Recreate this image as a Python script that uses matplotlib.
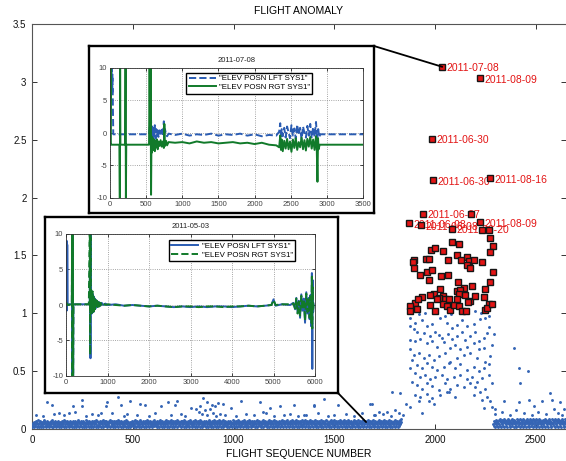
import numpy as np
import matplotlib
matplotlib.use('Agg')
import matplotlib.pyplot as plt
from matplotlib.patches import ConnectionPatch

plt.rcParams['font.family'] = ['Liberation Sans', 'DejaVu Sans']
plt.rcParams['axes.unicode_minus'] = False

# ---------------- main scatter data ----------------
# baseline band (flights 0..~1860, every 2nd flight), digit d -> anomaly (d+1)/100
band_a = (
    "3142531426351423741526314253174625314263524153624173514263521"
    "4253612435214635241736251436254132645213652413625143726154326"
    "2514362514237165243614253162451362541732615243625143627154236"
    "3615243625174253614263512463527143625146352413625174362514253"
    "1426352416372514263541263715243625416352147362514263521463725"
    "4352613425163742516342513627415362514263751426351426354172635"
    "2536142635174263514263521746352416352417362514263514726351426"
    "3524163524173625143625147362514263517426351426371524362514263"
    "5142635241736251426351427362514263541726351426352174635214263"
    "2635142637152436251426374152436251426351742635142637152463521"
    "4263514263721546352416374251436254137264513627415263514263527"
    "1536241735264153624173526415362471352641536247135264153624713"
    "3624153627415362417352641536241735264153627415362417352641536"
    "2415362741536247135264153624713526415362471352641536247135264"
    "415362741352641536247135264153624713526415362471352641536247358"
)
band_a_start = 0
# baseline band after the anomaly (flights ~2290..2650, every 2nd flight)
band_b = (
    "3625417362514738265147362815473625184736251473826514736251847"
    "2635184725361847253618472536184725361847253618472536184725361"
    "4736251847362518473625184736251847362518473625184736251847362"
)
band_b_start = 2290

# isolated higher points
outl_x = [73, 98, 134, 184, 204, 247, 250, 341, 366, 373,
          428, 440, 487, 537, 561, 640, 674, 711, 718, 788,
          813, 834, 851, 867, 884, 892, 908, 925, 950, 987,
          1038, 1129, 1145, 1182, 1232, 1301, 1361, 1397, 1400, 1450,
          1518, 1675, 1687, 1697, 1763, 1786, 1801, 1827, 1857, 2344,
          2390, 2415, 2418, 2423, 2460, 2465, 2492, 2533, 2569, 2580,
          2620, 2640]
outl_y = [0.23, 0.21, 0.14, 0.14, 0.20, 0.25, 0.20, 0.14, 0.20, 0.23,
          0.28, 0.21, 0.245, 0.22, 0.21, 0.20, 0.23, 0.21, 0.245, 0.18,
          0.17, 0.20, 0.265, 0.23, 0.17, 0.21, 0.20, 0.225, 0.22, 0.18,
          0.245, 0.23, 0.15, 0.18, 0.20, 0.21, 0.12, 0.20, 0.21, 0.26,
          0.21, 0.22, 0.22, 0.12, 0.15, 0.32, 0.16, 0.31, 0.22, 0.24,
          0.70, 0.53, 0.23, 0.40, 0.50, 0.25, 0.20, 0.24, 0.31, 0.25,
          0.23, 0.17]
mid_x = [20, 55, 110, 160, 215, 270, 300, 330, 395, 455,
         470, 520, 580, 610, 690, 740, 760, 830, 845, 860,
         870, 900, 915, 935, 960, 1010, 1060, 1100, 1160, 1200,
         1250, 1280, 1320, 1350, 1420, 1470, 1500, 1560, 1600, 1640,
         1700, 1720, 1740, 1780, 1820, 1840, 2300, 2330, 2370, 2400,
         2440, 2480, 2510, 2550, 2590, 2610, 2630]
mid_y = [0.12, 0.11, 0.13, 0.12, 0.15, 0.11, 0.13, 0.12, 0.14, 0.11,
         0.13, 0.12, 0.11, 0.14, 0.12, 0.13, 0.11, 0.15, 0.13, 0.16,
         0.12, 0.14, 0.11, 0.13, 0.12, 0.11, 0.13, 0.12, 0.14, 0.11,
         0.12, 0.13, 0.11, 0.12, 0.14, 0.11, 0.12, 0.13, 0.11, 0.14,
         0.12, 0.15, 0.13, 0.11, 0.14, 0.12, 0.13, 0.15, 0.12, 0.16,
         0.14, 0.12, 0.15, 0.13, 0.17, 0.14, 0.12]

# anomaly cluster (blue points)
clu_x = [1877, 1902, 1935, 1960, 1985, 2026, 2059, 2084, 2109, 2134,
         2159, 2192, 2225, 2250, 2266, 2291, 1877, 1894, 1910, 1943,
         1977, 2001, 2018, 2034, 2063, 2084, 2109, 2134, 2150, 2175,
         2200, 2217, 2241, 2258, 1877, 1902, 1927, 1960, 1985, 2010,
         2043, 2076, 2101, 2126, 2159, 2192, 2217, 2241, 2283, 1877,
         1894, 1919, 1943, 1968, 1993, 2018, 2051, 2076, 2109, 2142,
         2175, 2208, 2250, 2274, 1886, 1910, 1935, 1960, 1985, 2010,
         2043, 2068, 2101, 2126, 2159, 2192, 2217, 2241, 2266, 1877,
         1902, 1927, 1952, 1977, 2001, 2034, 2059, 2092, 2126, 2159,
         2183, 2208, 2233, 2266, 1886, 1910, 1935, 1960, 1985, 2018,
         2051, 2076, 2109, 2142, 2175, 2200, 2225, 2250, 2283, 1902,
         1927, 1960, 1985, 2026, 2059, 2101, 2192, 2233, 2258, 2274,
         1935, 1993, 2068, 2283, 2299, 2241, 1877, 1919, 1968, 1890,
         1950, 2010, 2080, 2140, 2200, 2270, 1920, 2050, 2230]
clu_y = [0.96, 0.92, 0.94, 0.89, 0.91, 0.96, 0.92, 0.87, 0.90, 0.94,
         0.89, 0.91, 0.95, 0.96, 0.88, 0.82, 0.89, 0.86, 0.84, 0.83,
         0.80, 0.84, 0.81, 0.79, 0.82, 0.78, 0.80, 0.84, 0.77, 0.80,
         0.84, 0.76, 0.79, 0.83, 0.77, 0.76, 0.78, 0.74, 0.76, 0.71,
         0.75, 0.70, 0.73, 0.69, 0.71, 0.74, 0.69, 0.70, 0.73, 0.69,
         0.64, 0.66, 0.61, 0.64, 0.60, 0.63, 0.66, 0.58, 0.61, 0.64,
         0.66, 0.61, 0.58, 0.63, 0.60, 0.55, 0.53, 0.57, 0.54, 0.51,
         0.54, 0.57, 0.53, 0.56, 0.51, 0.54, 0.50, 0.53, 0.56, 0.53,
         0.48, 0.45, 0.47, 0.43, 0.45, 0.47, 0.43, 0.45, 0.47, 0.43,
         0.45, 0.41, 0.44, 0.47, 0.41, 0.38, 0.35, 0.40, 0.37, 0.34,
         0.40, 0.35, 0.38, 0.36, 0.40, 0.36, 0.32, 0.35, 0.40, 0.29,
         0.28, 0.30, 0.27, 0.29, 0.32, 0.28, 0.29, 0.25, 0.28, 0.24,
         0.14, 0.22, 0.32, 0.19, 0.17, 0.18, 0.19, 0.24, 0.24, 1.05,
         1.00, 1.03, 0.99, 1.00, 1.02, 0.98, 0.99, 0.98, 1.00]

# flagged anomalies (red squares)
sq_x = [2180, 2233, 2266, 2274, 2286, 2274, 2084, 2117, 1981, 2001,
        2042, 1894, 1889, 1955, 1971, 2109, 2158, 2130, 2167, 2191,
        2233, 2064, 1894, 1960, 1985, 2031, 2064, 1927, 1971, 2158,
        2175, 2286, 2274, 2112, 2183, 2142, 2249, 2026, 1993, 1976,
        2042, 2051, 2018, 1935, 2109, 2125, 2117, 2150, 2175, 2200,
        2241, 2266, 1902, 1874, 1877, 1910, 1976, 2001, 2042, 2059,
        2076, 2092, 2120, 2133, 2155, 2162, 2109, 2067, 2249, 2258,
        2284, 2009, 1918]
sq_y = [1.86, 1.72, 1.72, 1.65, 1.58, 1.53, 1.62, 1.60, 1.55, 1.56,
        1.54, 1.46, 1.44, 1.47, 1.47, 1.50, 1.49, 1.46, 1.45, 1.46,
        1.44, 1.46, 1.39, 1.36, 1.37, 1.32, 1.33, 1.33, 1.29, 1.42,
        1.39, 1.36, 1.27, 1.27, 1.24, 1.22, 1.21, 1.21, 1.17, 1.16,
        1.15, 1.12, 1.13, 1.14, 1.19, 1.20, 1.17, 1.16, 1.11, 1.15,
        1.14, 1.08, 1.09, 1.06, 1.02, 1.04, 1.07, 1.02, 1.08, 1.06,
        1.03, 1.07, 1.06, 1.02, 1.02, 1.10, 1.12, 1.12, 1.03, 1.05,
        1.08, 1.12, 1.12]
lab_x = [2036, 2224, 1986, 1991, 2274, 1941, 1872, 1930, 2084, 2224]
lab_y = [3.13, 3.03, 2.51, 2.15, 2.17, 1.86, 1.78, 1.76, 1.73, 1.79]
lab_txt = ['2011-07-08', '2011-08-09', '2011-06-30', '2011-06-30', '2011-08-16',
           '2011-06-27', '2011-06-08', '2011-06-08', '2011-06-20', '2011-08-09']
# flights shown in the insets: 2011-07-08 and 2011-05-03
zoom_x = [2036, 1658]
zoom_y = [3.13, 0.06]

main_xticks = [0, 500, 1000, 1500, 2000, 2500]
main_yticks = [0, 0.5, 1, 1.5, 2, 2.5, 3, 3.5]
main_yticklabels = ['0', '0.5', '1', '1.5', '2', '2.5', '3', '3.5']

# ---------------- inset 1: 2011-07-08 ----------------
a1_lft_x = [0, 10, 14, 18, 22, 26, 30, 34, 38, 45,
            540, 552, 560, 568, 576, 584, 592, 600, 610, 620,
            630, 640, 650, 660, 670, 685, 700, 715, 730, 745,
            752, 760, 775, 790, 810, 900, 1000, 1100, 1200, 1300,
            1400, 1500, 1600, 1700, 1800, 1900, 2000, 2100, 2200, 2300,
            2340, 2355, 2365, 2375, 2390, 2410, 2430, 2450, 2470, 2490,
            2510, 2530, 2550, 2570, 2590, 2610, 2630, 2650, 2670, 2690,
            2710, 2730, 2750, 2770, 2790, 2810, 2830, 2850, 2865, 2880,
            2895, 2910, 3000, 3500]
a1_lft_y = [-0.2, 10, 6, 10, 7, 10, 6, 9, 6, -0.2,
            -0.2, 1.2, -1.2, 2.0, -0.8, 1.0, -1.3, 0.8, -0.6, 1.2,
            -0.9, 0.6, -0.5, 0.7, -0.6, 0.4, -0.3, 0.5, -0.5, 1.8,
            -0.4, 0.6, -0.2, -0.5, -0.1, -0.3, -0.1, -0.4, -0.2, -0.3,
            -0.1, -0.4, -0.2, -0.3, -0.1, -0.4, -0.2, -0.5, -0.3, -0.4,
            0.2, 1.5, -0.8, 0.6, -0.5, 0.8, -0.7, 1.0, 0.1, -0.8,
            1.2, -0.4, 0.7, -0.9, 1.3, -0.3, 0.8, -1.0, 1.0, 0.0,
            -0.7, 1.1, -0.4, 1.4, -0.8, 0.9, -0.6, 1.7, -1.2, 0.6,
            -0.6, -0.2, -0.2, -0.2]
a1_rgt_x = [0, 8, 12, 20, 130, 136, 140, 144, 210, 215,
            220, 225, 520, 540, 548, 556, 562, 568, 574, 580,
            590, 600, 610, 620, 630, 640, 650, 660, 670, 685,
            700, 715, 730, 745, 752, 760, 775, 790, 810, 900,
            1000, 1100, 1200, 1300, 1400, 1500, 1600, 1700, 1800, 1900,
            2000, 2100, 2200, 2300, 2340, 2355, 2365, 2375, 2390, 2410,
            2430, 2450, 2470, 2490, 2510, 2530, 2550, 2570, 2590, 2610,
            2630, 2650, 2670, 2690, 2710, 2730, 2750, 2770, 2790, 2810,
            2830, 2850, 2860, 2870, 2878, 2886, 2900, 3000, 3500]
a1_rgt_y = [-1.8, 10, -1.8, -1.8, -1.8, -10, 10, -1.8, -1.8, 10,
            -10, -1.8, -1.8, -1.8, 10, -1.5, 10, -9.5, -0.5, -3.0,
            -0.8, -2.6, -1.0, -2.8, -1.2, -2.2, -1.0, -2.5, -1.3, -2.0,
            -1.1, -2.1, -1.3, -2.3, 1.4, -2.0, -1.2, -1.9, -1.4, -1.5,
            -1.4, -1.6, -1.3, -1.5, -1.4, -1.6, -1.5, -1.4, -1.6, -1.5,
            -1.7, -1.5, -1.8, -1.9, -2.2, -0.4, -2.6, -1.0, -2.8, -1.2,
            -2.4, -0.9, -2.5, -1.3, -2.9, -1.0, -2.3, -0.8, -2.6, -1.4,
            -2.2, -0.7, -2.5, -1.1, -2.7, -0.9, -2.1, -0.6, -2.4, -1.0,
            -2.6, -0.5, -2.2, -7.5, -0.8, -2.5, -1.8, -1.8, -1.8]
a1_xticks = [0, 500, 1000, 1500, 2000, 2500, 3000, 3500]

# ---------------- inset 2: 2011-05-03 ----------------
a2_lft_x = [0, 10, 15, 20, 25, 30, 40, 140, 148, 156,
            164, 172, 180, 550, 570, 580, 590, 598, 606, 614,
            622, 630, 640, 650, 660, 670, 680, 695, 710, 725,
            740, 760, 780, 800, 830, 860, 900, 950, 1000, 1200,
            1400, 1600, 1800, 2000, 2200, 2400, 2600, 2800, 3000, 3200,
            3400, 3600, 3800, 4000, 4200, 4400, 4600, 4800, 4950, 5000,
            5050, 5200, 5400, 5480, 5520, 5550, 5580, 5610, 5640, 5670,
            5700, 5730, 5760, 5790, 5820, 5850, 5870, 5890, 5910, 5925,
            5935, 5945, 5955, 5965]
a2_lft_y = [0.2, 9.0, -0.8, 9.0, 0.0, 8.5, 0.1, 0.1, 10, -10,
            10, -10, 0.1, 0.1, 0.2, 10, -7.5, 10, -1.0, 2.0,
            -1.2, 1.8, -0.8, 1.5, -1.0, 1.2, -0.6, 0.9, -0.5, 0.7,
            -0.3, 0.5, -0.2, 0.4, -0.1, 0.3, 0.0, 0.2, 0.0, 0.1,
            -0.1, 0.0, -0.1, -0.2, -0.1, -0.2, -0.3, -0.2, -0.3, -0.2,
            -0.3, -0.2, -0.2, -0.3, -0.2, -0.1, -0.2, -0.1, 0.0, 0.8,
            -0.1, 0.1, 0.0, 0.3, -0.6, 1.0, -1.0, 0.6, -1.8, 1.5,
            -0.8, 0.9, -2.5, 1.8, -1.2, 1.0, -2.0, 1.4, -3.0, 4.5,
            -9.0, 3.5, -1.0, 0.2]
a2_rgt_x = [0, 12, 20, 30, 140, 148, 156, 164, 172, 180,
            550, 572, 582, 592, 600, 608, 616, 624, 632, 642,
            652, 662, 672, 684, 698, 712, 728, 745, 765, 785,
            805, 835, 865, 905, 955, 1000, 1200, 1400, 1600, 1800,
            2000, 2200, 2400, 2600, 2800, 3000, 3200, 3400, 3600, 3800,
            4000, 4200, 4400, 4600, 4800, 4950, 5000, 5050, 5200, 5400,
            5480, 5520, 5550, 5580, 5610, 5640, 5670, 5700, 5730, 5760,
            5790, 5820, 5850, 5870, 5890, 5910, 5925, 5935, 5945, 5955,
            5965]
a2_rgt_y = [0.1, 0.3, 0.1, 0.0, 0.1, 10, -10, 10, -10, 0.1,
            0.1, 10, -7.0, 10, -1.2, 2.2, -1.0, 1.6, -1.1, 1.9,
            -0.7, 1.4, -0.9, 1.1, -0.6, 0.8, -0.4, 0.6, -0.3, 0.4,
            -0.2, 0.3, -0.1, 0.2, 0.0, 0.1, 0.0, -0.1, 0.0, -0.1,
            -0.2, -0.1, -0.2, -0.3, -0.2, -0.2, -0.3, -0.2, -0.2, -0.3,
            -0.2, -0.2, -0.1, -0.2, -0.1, 0.0, 0.7, 0.0, 0.1, 0.1,
            0.2, -0.5, 0.9, -1.2, 0.5, -1.5, 1.3, -0.6, 0.8, -2.2,
            1.6, -1.0, 0.8, -1.8, 1.2, -2.5, 4.0, -3.3, 2.5, -0.8,
            0.1]
a2_xticks = [0, 1000, 2000, 3000, 4000, 5000, 6000]
inset_yticks = [-10, -5, 0, 5, 10]
legend_labels = ['"ELEV POSN LFT SYS1"', '"ELEV POSN RGT SYS1"']

BLUE_PT = '#3565b5'
BLUE = '#2a5cb2'
GREEN = '#117a2a'
RED = '#e31414'

W, H = 566, 461
def fr(x0, y0, x1, y1):
    return [x0 / W, 1 - y1 / H, (x1 - x0) / W, (y1 - y0) / H]

fig = plt.figure(figsize=(W / 100, H / 100), dpi=100)
ax = fig.add_axes(fr(32, 24, 566, 429))

# band points
ya = np.array([int(c) for c in band_a]) / 100 + 0.01
xa = band_a_start + 2 * np.arange(len(ya))
yb = np.array([int(c) for c in band_b]) / 100 + 0.01
xb = band_b_start + 2 * np.arange(len(yb))
pt_kw = dict(ls='none', marker='.', ms=4.2, mew=0, color=BLUE_PT, zorder=3)
ax.plot(xa, ya, **pt_kw)
ax.plot(xb, yb, **pt_kw)
ax.plot(outl_x, outl_y, **pt_kw)
ax.plot(mid_x, mid_y, **pt_kw)
ax.plot(clu_x, clu_y, **pt_kw)

sq_kw = dict(ls='none', marker='s', ms=5, mfc=RED, mec='#151515', mew=1.0, zorder=6)
ax.plot(sq_x, sq_y, **sq_kw)
ax.plot(lab_x, lab_y, **sq_kw)
for x, y, t in zip(lab_x, lab_y, lab_txt):
    ax.annotate(t, (x, y), xytext=(3.2, -1.2), textcoords='offset points',
                color=RED, fontsize=7.5, va='center', ha='left', zorder=5)

ax.set_xlim(0, 2650)
ax.set_ylim(0, 3.5)
ax.set_xticks(main_xticks)
ax.set_yticks(main_yticks)
ax.set_yticklabels(main_yticklabels)
ax.tick_params(direction='in', top=True, right=True, length=3.5, width=0.7,
               labelsize=7, colors='#333333', labelcolor='#111111', pad=4)
for s in ax.spines.values():
    s.set_color('#555555')
    s.set_linewidth(0.8)
ax.spines['right'].set_visible(False)
ax.set_title('FLIGHT ANOMALY', fontsize=7.5, pad=7)
ax.set_xlabel('FLIGHT SEQUENCE NUMBER', fontsize=7.5, labelpad=3)

# connector lines
for (fx, fy), px, py in zip([(374, 46), (338, 393)], zoom_x, zoom_y):
    con = ConnectionPatch(xyA=(fx / W, 1 - fy / H), coordsA='figure fraction',
                          xyB=(px, py), coordsB='data', axesB=ax,
                          color='black', lw=1.3, zorder=1)
    fig.add_artist(con)

def panel(rect):
    p = fig.add_axes(rect, zorder=2)
    p.set_xticks([])
    p.set_yticks([])
    p.set_facecolor('white')
    for s in p.spines.values():
        s.set_linewidth(1.7)
        s.set_color('black')
    return p

def style_inset(a, xlim, xticks, title):
    a.set_xlim(*xlim)
    a.set_ylim(-10, 10)
    a.set_xticks(xticks)
    a.set_yticks(inset_yticks)
    a.grid(True, ls=':', color='#888888', lw=0.6)
    a.tick_params(direction='in', top=True, right=True, length=2, width=0.5,
                  labelsize=5.5, labelcolor='#444444', pad=2)
    for s in a.spines.values():
        s.set_linewidth(0.6)
        s.set_color('#333333')
    a.set_title(title, fontsize=5.5, pad=4, color='#222222')

panel(fr(89, 46, 374, 213))
i1 = fig.add_axes(fr(110, 68, 363, 198), zorder=3)
i1.plot(a1_lft_x, a1_lft_y, '--', color=BLUE, lw=1.4, label=legend_labels[0])
i1.plot(a1_rgt_x, a1_rgt_y, '-', color=GREEN, lw=1.4, label=legend_labels[1])
style_inset(i1, (0, 3500), a1_xticks, '2011-07-08')
i1.legend(loc='upper right', bbox_to_anchor=(0.80, 0.965), fontsize=5.7,
          fancybox=False, edgecolor='black', framealpha=1, handlelength=3.4,
          borderpad=0.3, labelspacing=0.15, handletextpad=0.4, borderaxespad=0)

panel(fr(45, 217, 338, 393))
i2 = fig.add_axes(fr(66, 234, 315, 376), zorder=3)
i2.plot(a2_lft_x, a2_lft_y, '-', color=BLUE, lw=1.4, label=legend_labels[0])
i2.plot(a2_rgt_x, a2_rgt_y, '--', color=GREEN, lw=1.4, label=legend_labels[1])
style_inset(i2, (0, 6000), a2_xticks, '2011-05-03')
i2.legend(loc='upper right', bbox_to_anchor=(0.92, 0.958), fontsize=5.7,
          fancybox=False, edgecolor='black', framealpha=1, handlelength=3.4,
          borderpad=0.3, labelspacing=0.15, handletextpad=0.4, borderaxespad=0)

fig.savefig('out.png', dpi=100)
